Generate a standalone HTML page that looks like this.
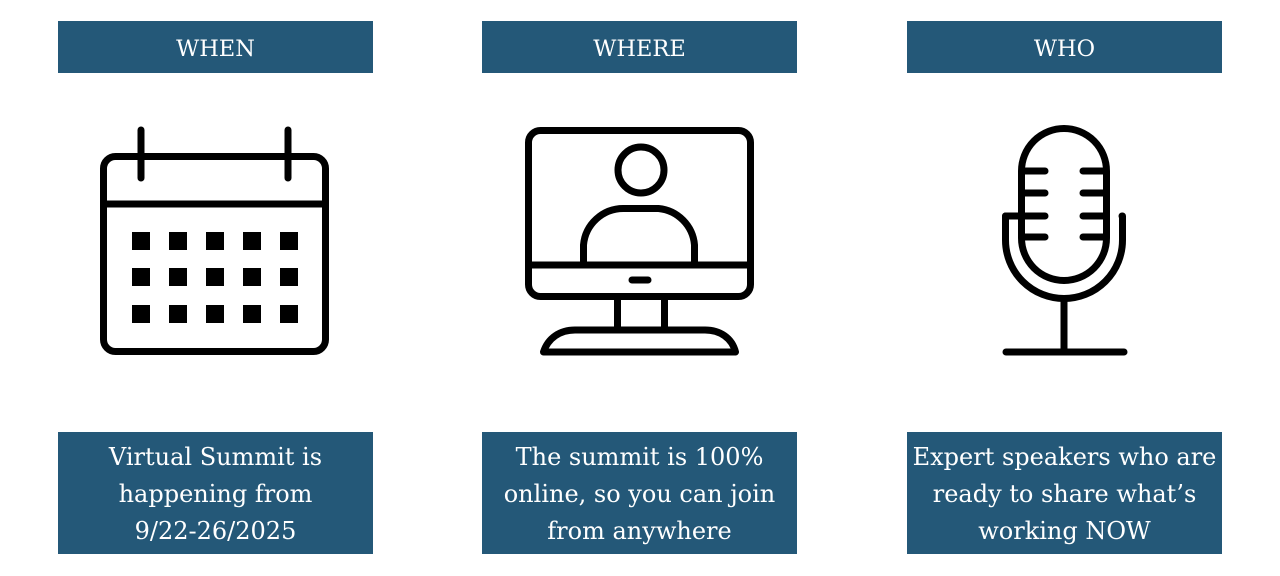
<!DOCTYPE html>
<html><head><style>
body{margin:0;width:1280px;height:576px;background:#fff;overflow:hidden;position:relative;font-family:"DejaVu Serif","Liberation Serif",serif;}
.b{position:absolute;background:#245878;color:#fff;text-align:center;}
.h{top:21px;height:52px;width:315px;line-height:56px;font-size:22.5px;}
.t{top:432px;height:122px;width:315px;font-size:24px;line-height:37px;padding-top:7px;box-sizing:border-box;white-space:nowrap;}
svg{position:absolute;left:0;top:0}
</style></head><body>
<div class="b h" style="left:58px">WHEN</div>
<div class="b h" style="left:482px">WHERE</div>
<div class="b h" style="left:907px">WHO</div>
<div class="b t" style="left:58px">Virtual Summit is<br>happening from<br>9/22-26/2025</div>
<div class="b t" style="left:482px">The summit is 100%<br>online, so you can join<br>from anywhere</div>
<div class="b t" style="left:907px">Expert speakers who are<br>ready to share what’s<br>working NOW</div>
<svg width="1280" height="576" fill="none" stroke="#000" stroke-width="7" stroke-linecap="round">
<rect x="103.5" y="156.5" width="222" height="195" rx="12"/>
<line x1="104" y1="204" x2="325" y2="204" stroke-linecap="butt"/>
<line x1="141" y1="130" x2="141" y2="178"/>
<line x1="288" y1="130" x2="288" y2="178"/>
<g fill="#000" stroke="none">
<rect x="132" y="232" width="18" height="18"/><rect x="169" y="232" width="18" height="18"/><rect x="206" y="232" width="18" height="18"/><rect x="243" y="232" width="18" height="18"/><rect x="280" y="232" width="18" height="18"/>
<rect x="132" y="268" width="18" height="18"/><rect x="169" y="268" width="18" height="18"/><rect x="206" y="268" width="18" height="18"/><rect x="243" y="268" width="18" height="18"/><rect x="280" y="268" width="18" height="18"/>
<rect x="132" y="305" width="18" height="18"/><rect x="169" y="305" width="18" height="18"/><rect x="206" y="305" width="18" height="18"/><rect x="243" y="305" width="18" height="18"/><rect x="280" y="305" width="18" height="18"/>
</g>
<rect x="528.5" y="130.5" width="222" height="166" rx="12"/>
<line x1="529" y1="265" x2="750" y2="265" stroke-linecap="butt"/>
<line x1="632" y1="280" x2="648" y2="280"/>
<circle cx="641" cy="170" r="23"/>
<path d="M583.5 265 V245 a40 40 0 0 1 40 -36.5 h35 a40 40 0 0 1 36 36.5 V265"/>
<path d="M617.5 297 V330 M664.5 297 V330" stroke-linecap="butt"/>
<path d="M543.5 352 C548 338 560 330 575 330 H705 C720 330 732 338 735.5 352 Z" stroke-linejoin="round"/>
<path d="M1021.5 171 a42.5 42.5 0 0 1 85 0 V238 a42.5 42.5 0 0 1 -85 0 Z"/>
<path d="M1005.5 216 V240 a58.5 58.5 0 0 0 117 0 V216 H1122" stroke-linejoin="round"/>
<path d="M1005.5 216 H1019"/>
<line x1="1025" y1="171" x2="1045" y2="171"/><line x1="1025" y1="193" x2="1045" y2="193"/><line x1="1025" y1="216" x2="1045" y2="216"/><line x1="1025" y1="237" x2="1045" y2="237"/>
<line x1="1083" y1="171" x2="1103" y2="171"/><line x1="1083" y1="193" x2="1103" y2="193"/><line x1="1083" y1="216" x2="1103" y2="216"/><line x1="1083" y1="237" x2="1103" y2="237"/>
<line x1="1064" y1="300" x2="1064" y2="351"/>
<line x1="1006" y1="352" x2="1124" y2="352"/>
</svg>
</body></html>
